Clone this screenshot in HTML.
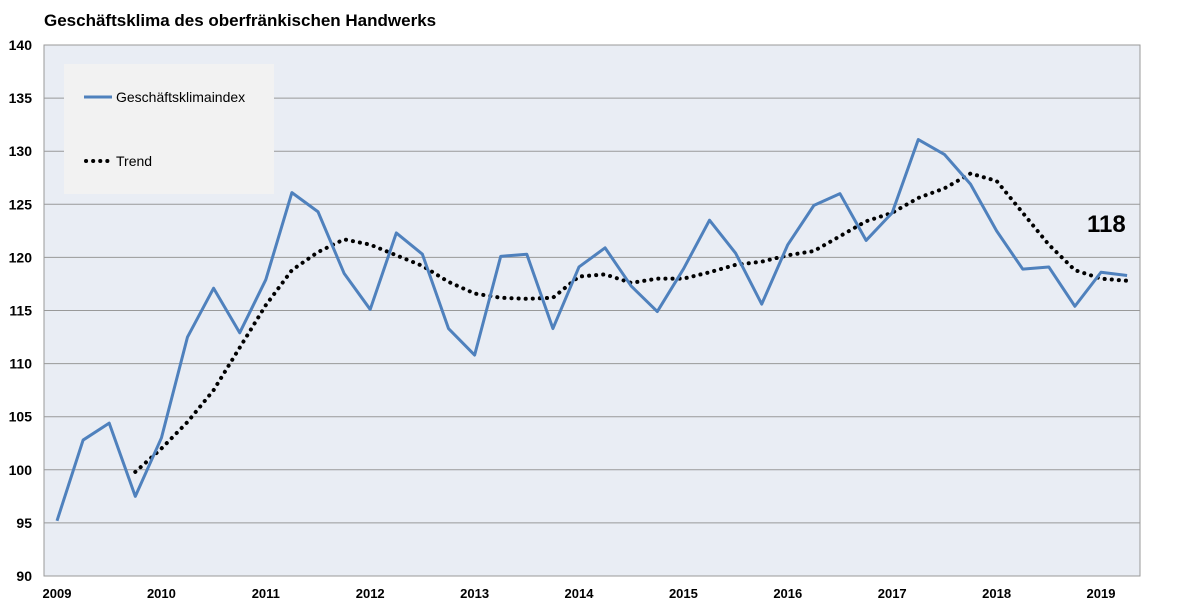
<!DOCTYPE html>
<html><head><meta charset="utf-8"><style>
body{margin:0;background:#fff;font-family:"Liberation Sans",Arial,sans-serif}
svg text{font-family:"Liberation Sans",Arial,sans-serif}
</style></head><body>
<svg width="1200" height="608" viewBox="0 0 1200 608">
<text x="44" y="26" font-size="17" font-weight="bold" fill="#000">Geschäftsklima des oberfränkischen Handwerks</text>
<rect x="44" y="45" width="1096" height="531" fill="#E9EDF4" stroke="#999"/>
<g id="grid"></g><g id="yticks"></g><g id="xticks"></g>
<g id="series"></g>
<rect x="64" y="64" width="210" height="130" fill="#F2F2F2"/>
<line x1="84" y1="97" x2="112" y2="97" stroke="#4F81BD" stroke-width="3"/>
<text x="116" y="102" font-size="14">Geschäftsklimaindex</text>
<line x1="86" y1="161" x2="110" y2="161" stroke="#000" stroke-width="4" stroke-dasharray="0.1 7" stroke-linecap="round"/>
<text x="116" y="166" font-size="14">Trend</text>
<text x="1087" y="232" font-size="24" font-weight="bold">118</text>
</svg>
<script>
const years=["2009","2010","2011","2012","2013","2014","2015","2016","2017","2018","2019"];
const yTicks=[90,95,100,105,110,115,120,125,130,135,140];
const indexValues=[95.2,102.8,104.4,97.5,103,112.5,117.1,112.9,117.9,126.1,124.3,118.5,115.1,122.3,120.3,113.3,110.8,120.1,120.3,113.3,119.1,120.9,117.3,114.9,118.9,123.5,120.4,115.6,121.2,124.9,126,121.6,124.2,131.1,129.7,126.9,122.5,118.9,119.1,115.4,118.6,118.3];
const trendStart=3;
const trendValues=[99.8,102,104.5,107.5,111.5,115.5,118.8,120.5,121.7,121.2,120.2,119.2,117.7,116.6,116.2,116.1,116.2,118.2,118.4,117.6,118,118,118.6,119.3,119.6,120.2,120.6,122,123.4,124.2,125.6,126.5,127.9,127.2,124.2,121.2,118.8,118.0,117.8];
const NS="http://www.w3.org/2000/svg";
const x=i=>57+i*26.1;
const y=v=>576-(v-90)*531/50;
function mk(t,a,p){const e=document.createElementNS(NS,t);for(const k in a)e.setAttribute(k,a[k]);document.getElementById(p).appendChild(e);return e;}
yTicks.forEach(v=>{
 if(v>90&&v<140){const l=mk('line',{x1:44,x2:1140,y1:y(v),y2:y(v),stroke:'#999','stroke-width':1},'grid');
 
 }
 const t=mk('text',{x:32,y:y(v)+5,'font-size':14,'font-weight':'bold','text-anchor':'end'},'yticks');t.textContent=v;
 
 
});
years.forEach((yr,i)=>{
 const t=mk('text',{x:x(i*4),y:598,'font-size':13,'font-weight':'bold','text-anchor':'middle'},'xticks');t.textContent=yr;
 
 
});
const tp=mk('polyline',{points:trendValues.map((v,i)=>x(i+trendStart)+','+y(v)).join(' '),fill:'none',stroke:'#000','stroke-width':4,'stroke-dasharray':'0.1 7','stroke-linecap':'round'},'series');


const ip=mk('polyline',{points:indexValues.map((v,i)=>x(i)+','+y(v)).join(' '),fill:'none',stroke:'#4F81BD','stroke-width':3,'stroke-linejoin':'round'},'series');


</script>
</body></html>
